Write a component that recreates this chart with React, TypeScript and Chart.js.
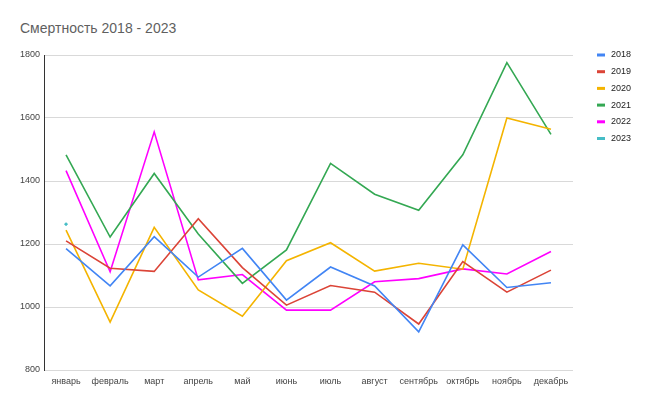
import React, { useEffect, useRef } from "react";
import { Chart, registerables } from "chart.js";

Chart.register(...registerables);

const months = ["январь", "февраль", "март", "апрель", "май", "июнь", "июль", "август", "сентябрь", "октябрь", "ноябрь", "декабрь"];
const yTicks = [800, 1000, 1200, 1400, 1600, 1800];

const s2018 = [1185, 1067, 1223, 1095, 1186, 1022, 1127, 1067, 921, 1197, 1062, 1077];
const s2019 = [1210, 1123, 1113, 1280, 1125, 1006, 1068, 1047, 946, 1144, 1047, 1117];
const s2020 = [1244, 952, 1253, 1054, 971, 1147, 1204, 1114, 1139, 1120, 1600, 1564];
const s2021 = [1483, 1222, 1424, 1232, 1075, 1181, 1456, 1358, 1307, 1483, 1776, 1548];
const s2022 = [1433, 1112, 1556, 1086, 1103, 990, 990, 1080, 1090, 1121, 1105, 1176];
const s2023 = [1263, null, null, null, null, null, null, null, null, null, null, null];

const seriesNames = ["2018", "2019", "2020", "2021", "2022", "2023"];
const seriesData = [s2018, s2019, s2020, s2021, s2022, s2023];
const colors = ["#4285f4", "#db4437", "#f4b400", "#34a853", "#ff00ff", "#46bdc6"];

const FONT = "'Liberation Sans', Arial, sans-serif";

const legendPlugin = {
  id: "customLegend",
  afterDraw(chart: any) {
    const ctx = chart.ctx;
    ctx.save();
    ctx.font = `9px ${FONT}`;
    ctx.textBaseline = "middle";
    ctx.textAlign = "left";
    chart.data.datasets.forEach((ds: any, i: number) => {
      const y = 55 + i * 16.7;
      ctx.fillStyle = ds.borderColor;
      ctx.fillRect(597, y - 1.5, 8, 3);
      ctx.fillStyle = "#222";
      ctx.fillText(ds.label, 611, y);
    });
    ctx.restore();
  },
};

export default function App() {
  const ref = useRef<HTMLCanvasElement>(null);
  useEffect(() => {
    if (!ref.current) return;
    const chart = new Chart(ref.current, {
      type: "line",
      data: {
        labels: months,
        datasets: seriesData.map((d, i) => ({
          label: seriesNames[i],
          data: d,
          borderColor: colors[i],
          backgroundColor: colors[i],
          borderWidth: 1.6,
          pointRadius: i === 5 ? 1.2 : 0,
          pointBorderWidth: 1,
          pointHoverRadius: 0,
          tension: 0,
          spanGaps: false,
        })),
      },
      options: {
        animation: false,
        responsive: false,
        maintainAspectRatio: false,
        devicePixelRatio: 1,
        layout: { padding: { top: 55, right: 83, bottom: 0, left: 0 } },
        plugins: {
          legend: { display: false },
          title: { display: false },
          tooltip: { enabled: false },
        },
        scales: {
          x: {
            offset: true,
            grid: { display: false, drawTicks: false },
            border: { display: false },
            ticks: { font: { size: 9, family: FONT }, color: "#444", padding: 6, maxRotation: 0, autoSkip: false },
            afterFit: (s: any) => { s.height = 34; },
          },
          y: {
            min: 800,
            max: 1800,
            afterBuildTicks: (s: any) => { s.ticks = yTicks.map((v) => ({ value: v })); },
            grid: { color: "#d9d9d9", lineWidth: 1, drawTicks: false },
            border: { display: true, color: "#333", width: 1 },
            ticks: { font: { size: 9, family: FONT }, color: "#444", padding: 4, callback: (v: any) => String(v) },
            afterFit: (s: any) => { s.width = 44; },
          },
        },
      },
      plugins: [legendPlugin],
    });
    return () => chart.destroy();
  }, []);
  return (
    <div style={{ position: "fixed", left: 0, top: 0, width: 656, height: 404, background: "#fff" }}>
      <div style={{ position: "absolute", left: 20, top: 20, fontFamily: FONT, fontSize: 14, color: "#5f5f5f", whiteSpace: "nowrap" }}>
        Смертность 2018 - 2023
      </div>
      <canvas ref={ref} width={656} height={404} style={{ position: "absolute", left: 0, top: 0 }} />
    </div>
  );
}
